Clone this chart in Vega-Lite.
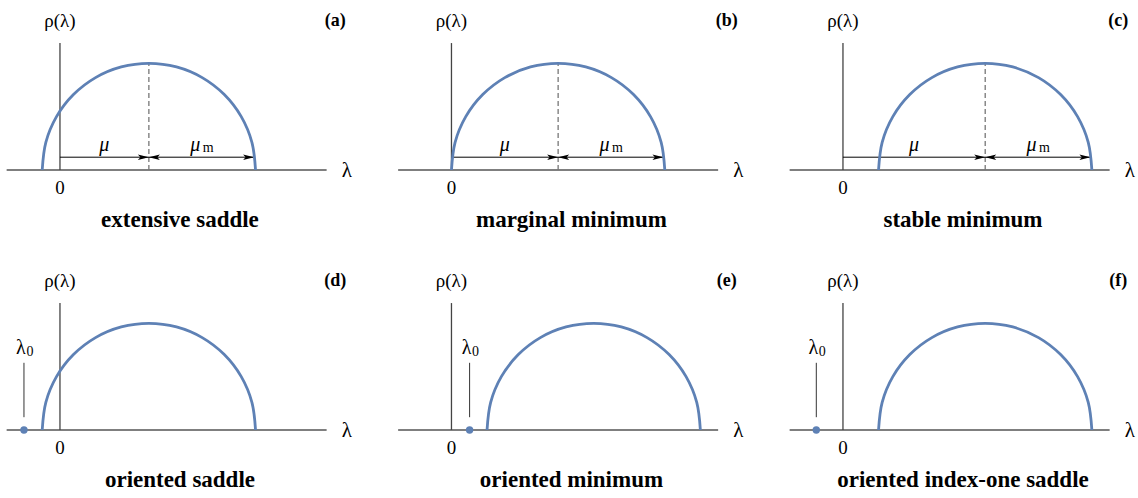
{
  "$schema": "https://vega.github.io/schema/vega-lite/v6.json",
  "background": "white",
  "padding": {"left": 1.3, "top": 10, "right": 0, "bottom": 0},
  "config": {
    "view": {"stroke": null},
    "font": "Liberation Serif",
    "text": {"font": "Liberation Serif"}
  },
  "data": {"values": [
    {"kind": "info", "r": 1, "c": 1, "mu": 1.667, "muLab": 0.83, "mmEnd": 3.64, "mmLab": 2.667, "lam0": null, "cap": "extensive saddle", "tag": "(a)"},
    {"kind": "info", "r": 1, "c": 2, "mu": 2.0, "muLab": 1.0, "mmEnd": 3.975, "mmLab": 3.0, "lam0": null, "cap": "marginal minimum", "tag": "(b)"},
    {"kind": "info", "r": 1, "c": 3, "mu": 2.667, "muLab": 1.33, "mmEnd": 4.64, "mmLab": 3.667, "lam0": null, "cap": "stable minimum", "tag": "(c)"},
    {"kind": "info", "r": 2, "c": 1, "mu": 1.667, "lam0": -0.675, "cap": "oriented saddle", "tag": "(d)"},
    {"kind": "info", "r": 2, "c": 2, "mu": 2.667, "lam0": 0.34, "cap": "oriented minimum", "tag": "(e)"},
    {"kind": "info", "r": 2, "c": 3, "mu": 2.667, "lam0": -0.5, "cap": "oriented index-one saddle", "tag": "(f)"},

    {"kind": "curve", "r": 1, "c": 1, "i": 0, "x": -0.333, "y": 0},
    {"kind": "curve", "r": 1, "c": 1, "i": 1, "x": -0.265, "y": 0.518},
    {"kind": "curve", "r": 1, "c": 1, "i": 2, "x": -0.065, "y": 1.0},
    {"kind": "curve", "r": 1, "c": 1, "i": 3, "x": 0.253, "y": 1.414},
    {"kind": "curve", "r": 1, "c": 1, "i": 4, "x": 0.667, "y": 1.732},
    {"kind": "curve", "r": 1, "c": 1, "i": 5, "x": 1.149, "y": 1.932},
    {"kind": "curve", "r": 1, "c": 1, "i": 6, "x": 1.667, "y": 2.0},
    {"kind": "curve", "r": 1, "c": 1, "i": 7, "x": 2.185, "y": 1.932},
    {"kind": "curve", "r": 1, "c": 1, "i": 8, "x": 2.667, "y": 1.732},
    {"kind": "curve", "r": 1, "c": 1, "i": 9, "x": 3.081, "y": 1.414},
    {"kind": "curve", "r": 1, "c": 1, "i": 10, "x": 3.399, "y": 1.0},
    {"kind": "curve", "r": 1, "c": 1, "i": 11, "x": 3.599, "y": 0.518},
    {"kind": "curve", "r": 1, "c": 1, "i": 12, "x": 3.667, "y": 0},

    {"kind": "curve", "r": 2, "c": 1, "i": 0, "x": -0.333, "y": 0},
    {"kind": "curve", "r": 2, "c": 1, "i": 1, "x": -0.265, "y": 0.518},
    {"kind": "curve", "r": 2, "c": 1, "i": 2, "x": -0.065, "y": 1.0},
    {"kind": "curve", "r": 2, "c": 1, "i": 3, "x": 0.253, "y": 1.414},
    {"kind": "curve", "r": 2, "c": 1, "i": 4, "x": 0.667, "y": 1.732},
    {"kind": "curve", "r": 2, "c": 1, "i": 5, "x": 1.149, "y": 1.932},
    {"kind": "curve", "r": 2, "c": 1, "i": 6, "x": 1.667, "y": 2.0},
    {"kind": "curve", "r": 2, "c": 1, "i": 7, "x": 2.185, "y": 1.932},
    {"kind": "curve", "r": 2, "c": 1, "i": 8, "x": 2.667, "y": 1.732},
    {"kind": "curve", "r": 2, "c": 1, "i": 9, "x": 3.081, "y": 1.414},
    {"kind": "curve", "r": 2, "c": 1, "i": 10, "x": 3.399, "y": 1.0},
    {"kind": "curve", "r": 2, "c": 1, "i": 11, "x": 3.599, "y": 0.518},
    {"kind": "curve", "r": 2, "c": 1, "i": 12, "x": 3.667, "y": 0},

    {"kind": "curve", "r": 1, "c": 2, "i": 0, "x": 0.0, "y": 0},
    {"kind": "curve", "r": 1, "c": 2, "i": 1, "x": 0.068, "y": 0.518},
    {"kind": "curve", "r": 1, "c": 2, "i": 2, "x": 0.268, "y": 1.0},
    {"kind": "curve", "r": 1, "c": 2, "i": 3, "x": 0.586, "y": 1.414},
    {"kind": "curve", "r": 1, "c": 2, "i": 4, "x": 1.0, "y": 1.732},
    {"kind": "curve", "r": 1, "c": 2, "i": 5, "x": 1.482, "y": 1.932},
    {"kind": "curve", "r": 1, "c": 2, "i": 6, "x": 2.0, "y": 2.0},
    {"kind": "curve", "r": 1, "c": 2, "i": 7, "x": 2.518, "y": 1.932},
    {"kind": "curve", "r": 1, "c": 2, "i": 8, "x": 3.0, "y": 1.732},
    {"kind": "curve", "r": 1, "c": 2, "i": 9, "x": 3.414, "y": 1.414},
    {"kind": "curve", "r": 1, "c": 2, "i": 10, "x": 3.732, "y": 1.0},
    {"kind": "curve", "r": 1, "c": 2, "i": 11, "x": 3.932, "y": 0.518},
    {"kind": "curve", "r": 1, "c": 2, "i": 12, "x": 4.0, "y": 0},

    {"kind": "curve", "r": 1, "c": 3, "i": 0, "x": 0.667, "y": 0},
    {"kind": "curve", "r": 1, "c": 3, "i": 1, "x": 0.735, "y": 0.518},
    {"kind": "curve", "r": 1, "c": 3, "i": 2, "x": 0.935, "y": 1.0},
    {"kind": "curve", "r": 1, "c": 3, "i": 3, "x": 1.253, "y": 1.414},
    {"kind": "curve", "r": 1, "c": 3, "i": 4, "x": 1.667, "y": 1.732},
    {"kind": "curve", "r": 1, "c": 3, "i": 5, "x": 2.149, "y": 1.932},
    {"kind": "curve", "r": 1, "c": 3, "i": 6, "x": 2.667, "y": 2.0},
    {"kind": "curve", "r": 1, "c": 3, "i": 7, "x": 3.185, "y": 1.932},
    {"kind": "curve", "r": 1, "c": 3, "i": 8, "x": 3.667, "y": 1.732},
    {"kind": "curve", "r": 1, "c": 3, "i": 9, "x": 4.081, "y": 1.414},
    {"kind": "curve", "r": 1, "c": 3, "i": 10, "x": 4.399, "y": 1.0},
    {"kind": "curve", "r": 1, "c": 3, "i": 11, "x": 4.599, "y": 0.518},
    {"kind": "curve", "r": 1, "c": 3, "i": 12, "x": 4.667, "y": 0},

    {"kind": "curve", "r": 2, "c": 2, "i": 0, "x": 0.667, "y": 0},
    {"kind": "curve", "r": 2, "c": 2, "i": 1, "x": 0.735, "y": 0.518},
    {"kind": "curve", "r": 2, "c": 2, "i": 2, "x": 0.935, "y": 1.0},
    {"kind": "curve", "r": 2, "c": 2, "i": 3, "x": 1.253, "y": 1.414},
    {"kind": "curve", "r": 2, "c": 2, "i": 4, "x": 1.667, "y": 1.732},
    {"kind": "curve", "r": 2, "c": 2, "i": 5, "x": 2.149, "y": 1.932},
    {"kind": "curve", "r": 2, "c": 2, "i": 6, "x": 2.667, "y": 2.0},
    {"kind": "curve", "r": 2, "c": 2, "i": 7, "x": 3.185, "y": 1.932},
    {"kind": "curve", "r": 2, "c": 2, "i": 8, "x": 3.667, "y": 1.732},
    {"kind": "curve", "r": 2, "c": 2, "i": 9, "x": 4.081, "y": 1.414},
    {"kind": "curve", "r": 2, "c": 2, "i": 10, "x": 4.399, "y": 1.0},
    {"kind": "curve", "r": 2, "c": 2, "i": 11, "x": 4.599, "y": 0.518},
    {"kind": "curve", "r": 2, "c": 2, "i": 12, "x": 4.667, "y": 0},

    {"kind": "curve", "r": 2, "c": 3, "i": 0, "x": 0.667, "y": 0},
    {"kind": "curve", "r": 2, "c": 3, "i": 1, "x": 0.735, "y": 0.518},
    {"kind": "curve", "r": 2, "c": 3, "i": 2, "x": 0.935, "y": 1.0},
    {"kind": "curve", "r": 2, "c": 3, "i": 3, "x": 1.253, "y": 1.414},
    {"kind": "curve", "r": 2, "c": 3, "i": 4, "x": 1.667, "y": 1.732},
    {"kind": "curve", "r": 2, "c": 3, "i": 5, "x": 2.149, "y": 1.932},
    {"kind": "curve", "r": 2, "c": 3, "i": 6, "x": 2.667, "y": 2.0},
    {"kind": "curve", "r": 2, "c": 3, "i": 7, "x": 3.185, "y": 1.932},
    {"kind": "curve", "r": 2, "c": 3, "i": 8, "x": 3.667, "y": 1.732},
    {"kind": "curve", "r": 2, "c": 3, "i": 9, "x": 4.081, "y": 1.414},
    {"kind": "curve", "r": 2, "c": 3, "i": 10, "x": 4.399, "y": 1.0},
    {"kind": "curve", "r": 2, "c": 3, "i": 11, "x": 4.599, "y": 0.518},
    {"kind": "curve", "r": 2, "c": 3, "i": 12, "x": 4.667, "y": 0}
  ]},
  "facet": {
    "row": {"field": "r", "type": "ordinal", "header": null},
    "column": {"field": "c", "type": "ordinal", "header": null}
  },
  "spacing": {"row": 36, "column": 39.5},
  "spec": {
    "width": 352,
    "height": 224,
    "layer": [
      {
        "transform": [{"filter": "datum.kind == 'info'"}],
        "mark": {"type": "rule", "color": "#555555", "strokeWidth": 1.3},
        "encoding": {
          "x": {"datum": -1, "type": "quantitative", "scale": {"domain": [-1.1, 5.5], "nice": false, "zero": false}, "axis": null},
          "x2": {"datum": 5},
          "y": {"datum": 0, "type": "quantitative", "scale": {"domain": [-1.2, 3.0], "nice": false, "zero": false}, "axis": null}
        }
      },
      {
        "transform": [{"filter": "datum.kind == 'info'"}],
        "mark": {"type": "rule", "color": "#444444", "strokeWidth": 1.3},
        "encoding": {
          "x": {"datum": 0, "type": "quantitative"},
          "y": {"datum": 0, "type": "quantitative"},
          "y2": {"datum": 2.38}
        }
      },
      {
        "transform": [{"filter": "datum.kind == 'info' && datum.lam0 == null"}],
        "mark": {"type": "rule", "color": "#777777", "strokeWidth": 1.3, "strokeDash": [5, 3]},
        "encoding": {
          "x": {"field": "mu", "type": "quantitative"},
          "y": {"datum": 0, "type": "quantitative"},
          "y2": {"datum": 2.0}
        }
      },
      {
        "transform": [{"filter": "datum.kind == 'info' && datum.lam0 == null"}],
        "mark": {"type": "rule", "color": "black", "strokeWidth": 1},
        "encoding": {
          "x": {"field": "mmEnd", "type": "quantitative"},
          "x2": {"datum": 0},
          "y": {"datum": 0.24, "type": "quantitative"}
        }
      },
      {
        "transform": [{"filter": "datum.kind == 'info' && datum.lam0 == null"}],
        "mark": {"type": "point", "shape": "M0,0L-2.2,-0.55L-1.7,0L-2.2,0.55Z", "size": 100, "filled": true, "color": "black", "opacity": 1},
        "encoding": {
          "x": {"field": "mu", "type": "quantitative"},
          "y": {"datum": 0.24, "type": "quantitative"}
        }
      },
      {
        "transform": [{"filter": "datum.kind == 'info' && datum.lam0 == null"}],
        "mark": {"type": "point", "shape": "M0,0L-2.2,-0.55L-1.7,0L-2.2,0.55Z", "size": 100, "filled": true, "color": "black", "opacity": 1},
        "encoding": {
          "x": {"field": "mmEnd", "type": "quantitative"},
          "y": {"datum": 0.24, "type": "quantitative"}
        }
      },
      {
        "transform": [{"filter": "datum.kind == 'info' && datum.lam0 == null"}],
        "mark": {"type": "point", "shape": "M0,0L2.2,-0.55L1.7,0L2.2,0.55Z", "size": 100, "filled": true, "color": "black", "opacity": 1},
        "encoding": {
          "x": {"field": "mu", "type": "quantitative"},
          "y": {"datum": 0.24, "type": "quantitative"}
        }
      },
      {
        "transform": [{"filter": "datum.kind == 'info' && datum.lam0 == null"}],
        "mark": {"type": "text", "text": "μ", "fontSize": 20, "fontStyle": "italic", "color": "black"},
        "encoding": {
          "x": {"field": "muLab", "type": "quantitative"},
          "y": {"datum": 0.47, "type": "quantitative"}
        }
      },
      {
        "transform": [{"filter": "datum.kind == 'info' && datum.lam0 == null"}],
        "mark": {"type": "text", "text": "μ", "fontSize": 20, "fontStyle": "italic", "color": "black", "dx": -7},
        "encoding": {
          "x": {"field": "mmLab", "type": "quantitative"},
          "y": {"datum": 0.47, "type": "quantitative"}
        }
      },
      {
        "transform": [{"filter": "datum.kind == 'info' && datum.lam0 == null"}],
        "mark": {"type": "text", "text": "m", "fontSize": 14, "color": "black", "dx": 6, "dy": 3},
        "encoding": {
          "x": {"field": "mmLab", "type": "quantitative"},
          "y": {"datum": 0.47, "type": "quantitative"}
        }
      },
      {
        "transform": [{"filter": "datum.kind == 'info' && datum.lam0 != null"}],
        "mark": {"type": "rule", "color": "#333333", "strokeWidth": 1},
        "encoding": {
          "x": {"field": "lam0", "type": "quantitative"},
          "y": {"datum": 0.24, "type": "quantitative"},
          "y2": {"datum": 1.26}
        }
      },
      {
        "transform": [{"filter": "datum.kind == 'info' && datum.lam0 != null"}],
        "mark": {"type": "point", "filled": true, "size": 55, "color": "#5E81B5", "opacity": 1},
        "encoding": {
          "x": {"field": "lam0", "type": "quantitative"},
          "y": {"datum": 0, "type": "quantitative"}
        }
      },
      {
        "transform": [{"filter": "datum.kind == 'info' && datum.lam0 != null"}],
        "mark": {"type": "text", "text": "λ", "fontSize": 20, "color": "black", "dx": -3},
        "encoding": {
          "x": {"field": "lam0", "type": "quantitative"},
          "y": {"datum": 1.54, "type": "quantitative"}
        }
      },
      {
        "transform": [{"filter": "datum.kind == 'info' && datum.lam0 != null"}],
        "mark": {"type": "text", "text": "0", "fontSize": 14, "color": "black", "dx": 6, "dy": 4},
        "encoding": {
          "x": {"field": "lam0", "type": "quantitative"},
          "y": {"datum": 1.54, "type": "quantitative"}
        }
      },
      {
        "transform": [{"filter": "datum.kind == 'curve'"}],
        "mark": {"type": "line", "color": "#5E81B5", "strokeWidth": 2.8, "interpolate": "catmull-rom"},
        "encoding": {
          "x": {"field": "x", "type": "quantitative"},
          "y": {"field": "y", "type": "quantitative"},
          "order": {"field": "i", "type": "quantitative"}
        }
      },
      {
        "transform": [{"filter": "datum.kind == 'info'"}],
        "mark": {"type": "text", "text": "0", "fontSize": 19, "color": "black"},
        "encoding": {
          "x": {"datum": 0, "type": "quantitative"},
          "y": {"datum": -0.34, "type": "quantitative"}
        }
      },
      {
        "transform": [{"filter": "datum.kind == 'info'"}],
        "mark": {"type": "text", "text": "λ", "fontSize": 21, "color": "black"},
        "encoding": {
          "x": {"datum": 5.38, "type": "quantitative"},
          "y": {"datum": -0.02, "type": "quantitative"}
        }
      },
      {
        "transform": [{"filter": "datum.kind == 'info'"}],
        "mark": {"type": "text", "text": "ρ(λ)", "fontSize": 19, "color": "black"},
        "encoding": {
          "x": {"datum": 0, "type": "quantitative"},
          "y": {"datum": 2.8, "type": "quantitative"}
        }
      },
      {
        "transform": [{"filter": "datum.kind == 'info'"}],
        "mark": {"type": "text", "fontSize": 18, "fontWeight": "bold", "color": "black"},
        "encoding": {
          "x": {"datum": 5.16, "type": "quantitative"},
          "y": {"datum": 2.8, "type": "quantitative"},
          "text": {"field": "tag", "type": "nominal"}
        }
      },
      {
        "transform": [{"filter": "datum.kind == 'info'"}],
        "mark": {"type": "text", "fontSize": 23, "fontWeight": "bold", "color": "black"},
        "encoding": {
          "x": {"datum": 2.25, "type": "quantitative"},
          "y": {"datum": -0.94, "type": "quantitative"},
          "text": {"field": "cap", "type": "nominal"}
        }
      }
    ]
  }
}
